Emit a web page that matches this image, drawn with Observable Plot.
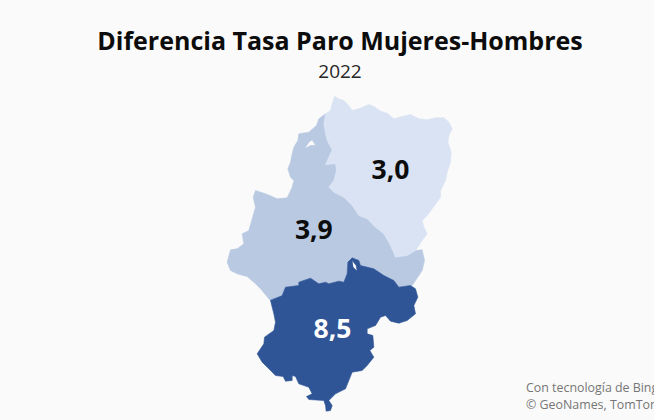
<!DOCTYPE html>
<html lang="es">
<head>
<meta charset="utf-8">
<script src="https://cdn.jsdelivr.net/npm/d3@7"></script>
<script src="https://cdn.jsdelivr.net/npm/@observablehq/plot@0.6"></script>
<style>
html,body{margin:0;padding:0;background:#fafafa;width:654px;height:420px;overflow:hidden;position:relative;font-family:"Open Sans",sans-serif}
#head{height:90px;text-align:center;overflow:hidden}
#title{position:absolute;left:0;top:23px;width:100%;font-size:25px;font-weight:700;line-height:34px;color:#0c0c0c;margin-left:13px;white-space:nowrap}
#sub{position:absolute;left:0;top:59px;width:100%;font-size:19px;line-height:24px;color:#262626;margin-left:13px}
#credit{position:absolute;left:526px;top:379px;width:128px;overflow:hidden;white-space:nowrap;font-size:12.4px;line-height:17px;color:#767676}
svg{display:block}
</style>
</head>
<body>
<div id="head">
<div id="title">Diferencia Tasa Paro Mujeres-Hombres</div>
<div id="sub">2022</div>
</div>
<div id="chart"></div>
<div id="credit">Con tecnología de Bing<br>© GeoNames, TomTom</div>
<script>
const provincias = ["Zaragoza", "Huesca", "Teruel"];
const valores = [3.9, 3.0, 8.5];
const colores = ["#b9c9e2", "#d9e3f4", "#2f5597"];
const etiquetaX = [310, 540, 366];
const etiquetaY = [420, 240, 717];
const colorTexto = ["#0c0c0c", "#0c0c0c", "#ffffff"];

const zaragoza = [[345,70],[325,85],[318,105],[295,125],[265,130],[262,150],[250,170],[245,190],[240,215],[232,235],[240,260],[250,270],[245,290],[230,322],[200,325],[178,315],[160,308],[135,300],[128,320],[135,350],[125,385],[115,420],[95,430],[100,460],[80,475],[60,478],[50,515],[60,540],[80,550],[110,558],[130,575],[150,595],[175,625],[180,630],[215,615],[225,590],[265,585],[265,575],[300,563],[325,580],[345,575],[355,580],[385,572],[400,575],[410,550],[412,515],[425,502],[445,510],[450,525],[490,535],[520,555],[550,570],[565,590],[605,585],[635,540],[642,510],[635,478],[615,480],[590,495],[555,500],[540,465],[520,430],[495,410],[470,385],[445,375],[425,345],[400,320],[370,305],[355,290],[370,270],[378,240],[375,220],[345,222],[355,200],[365,178],[350,150],[345,130],[340,100],[345,70]];
const zaragozaHueco = [[282,175],[300,165],[315,165],[305,148],[295,155],[282,175]];
const huesca = [[372,18],[385,25],[400,30],[415,45],[425,60],[445,55],[475,42],[490,48],[510,62],[530,68],[550,85],[575,78],[600,72],[625,85],[650,88],[675,82],[700,82],[715,95],[725,115],[715,135],[712,155],[722,185],[720,215],[710,245],[705,270],[690,300],[690,320],[665,355],[650,375],[635,390],[640,410],[650,430],[635,450],[615,480],[590,495],[555,500],[540,465],[520,430],[495,410],[470,385],[445,375],[425,345],[400,320],[370,305],[355,290],[370,270],[378,240],[375,220],[345,222],[355,200],[365,178],[350,150],[345,130],[340,100],[345,70],[360,60],[365,40],[372,18]];
const teruel = [[180,630],[190,670],[195,695],[190,720],[162,740],[160,760],[140,790],[155,815],[175,835],[195,855],[218,858],[225,872],[245,870],[245,855],[255,858],[265,880],[295,890],[305,910],[288,918],[295,927],[340,930],[345,945],[347,962],[360,960],[365,945],[355,930],[375,910],[405,895],[425,845],[455,840],[470,825],[490,800],[478,780],[490,770],[487,735],[470,730],[470,715],[495,705],[510,680],[525,675],[540,692],[565,698],[590,690],[615,670],[610,645],[622,620],[615,595],[600,585],[565,590],[550,570],[520,555],[490,535],[450,525],[445,510],[425,502],[412,515],[410,550],[400,575],[385,572],[355,580],[345,575],[325,580],[300,563],[265,575],[265,585],[225,590],[215,615],[180,630]];
const teruelHueco = [[425,510],[428,530],[440,542],[437,525],[425,510]];

const anillos = [[zaragoza, zaragozaHueco], [huesca], [teruel, teruelHueco]];
function orientar(anillo, positivo) {
  return (d3.polygonArea(anillo) > 0) === positivo ? anillo : [...anillo].reverse();
}
const regiones = provincias.map((nombre, i) => ({
  type: "Feature",
  properties: {nombre, valor: valores[i], color: colores[i]},
  geometry: {type: "Polygon", coordinates: anillos[i].map((a, j) => orientar(a, j === 0))}
}));
const etiquetas = provincias.map((nombre, i) => ({
  nombre, x: etiquetaX[i], y: etiquetaY[i], color: colorTexto[i],
  texto: valores[i].toFixed(1).replace(".", ",")
}));

const plot = Plot.plot({
  width: 654,
  height: 330,
  margin: 0,
  style: {background: "transparent"},
  projection: () => d3.geoIdentity().scale(1 / 3).translate([210, 0]),
  marks: [
    Plot.geo(regiones, {fill: d => d.properties.color, stroke: d => d.properties.color, strokeWidth: 0.6}),
    Plot.text(etiquetas, {x: "x", y: "y", text: "texto", fill: "color", fontSize: 26.5, fontWeight: 700, fontFamily: "Open Sans"})
  ]
});
document.getElementById("chart").appendChild(plot);
</script>
</body>
</html>
